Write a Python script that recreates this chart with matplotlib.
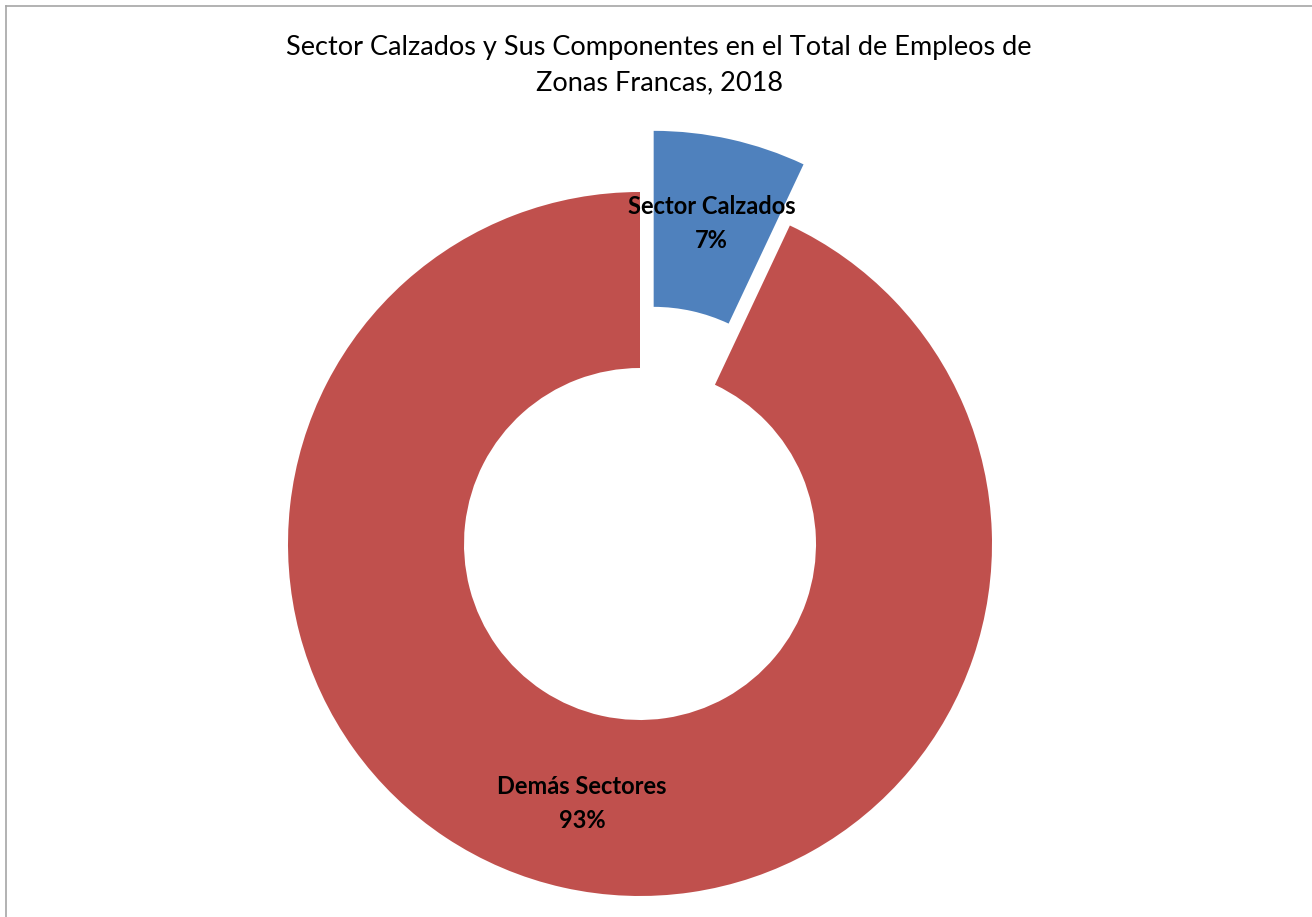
import numpy as np
import matplotlib
matplotlib.use("Agg")
import matplotlib.pyplot as plt
from matplotlib.lines import Line2D

# data
labels = ["Sector Calzados", "Demás Sectores"]
values = [7, 93]
colors = ["#4F81BD", "#C0504D"]
explode = [0.178, 0.0]
title = "Sector Calzados y Sus Componentes en el Total de Empleos de\nZonas Francas, 2018"

plt.rcParams['font.family'] = ['Lato', 'DejaVu Sans']

W, H = 1312, 917
fig = plt.figure(figsize=(W / 100, H / 100), dpi=100)
ax = fig.add_axes([0, 0, 1, 1])

# pie centre at (640, 544) px, radius 352 px
cx, cy, R = 640, H - 544, 352
wedges, _ = ax.pie(values, colors=colors, explode=explode, startangle=90,
                   counterclock=False, radius=1.0,
                   wedgeprops=dict(width=0.5, linewidth=0))
ax.set_xlim(-cx / R, (W - cx) / R)
ax.set_ylim(-cy / R, (H - cy) / R)
ax.axis('off')

# labels along each wedge's mid angle
tot = sum(values)
for w, lab, v in zip(wedges, labels, values):
    ang = np.deg2rad((w.theta1 + w.theta2) / 2)
    x0, y0 = w.center
    r = 0.755
    ax.text(x0 + r * np.cos(ang), y0 + r * np.sin(ang),
            "%s\n%d%%" % (lab, round(100 * v / tot)),
            ha='center', va='center', fontsize=17, fontweight='bold',
            linespacing=1.6, color='black')

fig.text(659 / W, 1 - 65 / H, title, ha='center', va='center',
         fontsize=19.5, linespacing=1.5, color='black')

# chart border (top and left visible)
bc = "#A6A6A6"
fig.add_artist(Line2D([6 / W, 1], [1 - 6 / H, 1 - 6 / H], color=bc, lw=1.2,
                      transform=fig.transFigure))
fig.add_artist(Line2D([6 / W, 6 / W], [0, 1 - 6 / H], color=bc, lw=1.2,
                      transform=fig.transFigure))

fig.savefig("out.png", dpi=100)
